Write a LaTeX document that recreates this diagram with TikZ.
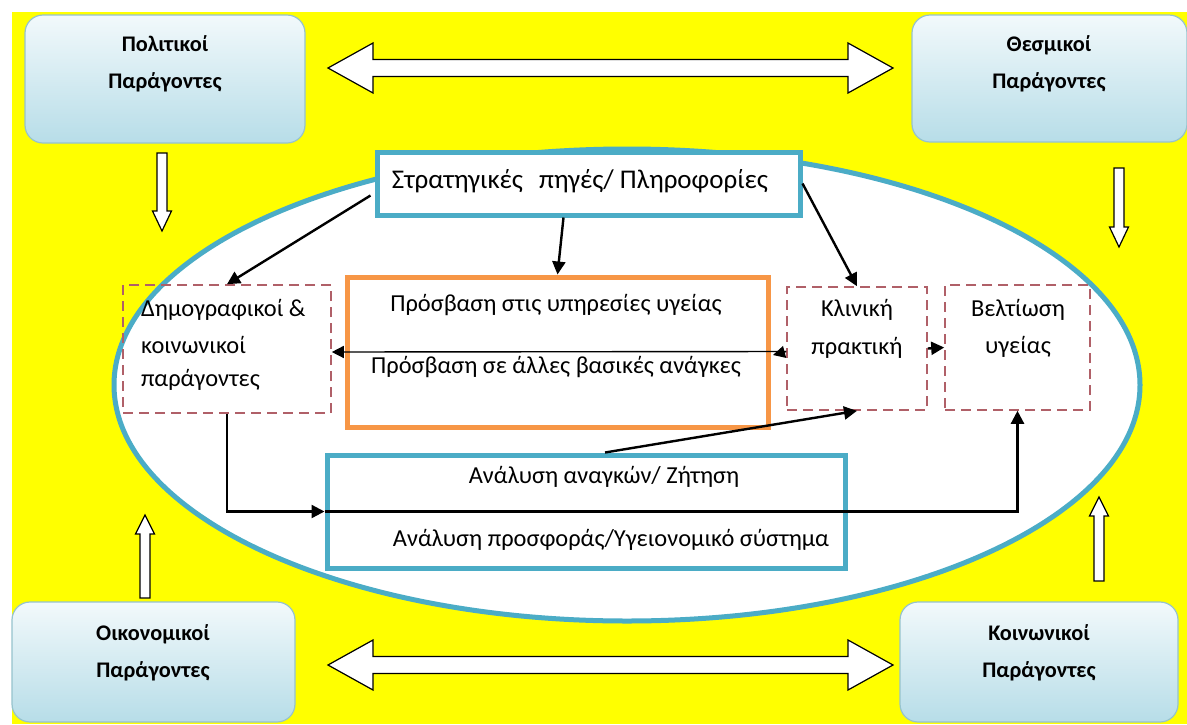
\documentclass[tikz,border=0pt]{standalone}
\usepackage{fontspec}
\setmainfont{Carlito}
\usetikzlibrary{arrows.meta,shapes.geometric,calc}
\definecolor{ylw}{RGB}{255,255,0}
\definecolor{cblue}{RGB}{75,172,198}
\definecolor{corange}{RGB}{247,150,70}
\definecolor{cdash}{RGB}{176,96,104}
\definecolor{ctop}{RGB}{242,249,251}
\definecolor{cbot}{RGB}{183,221,232}
\definecolor{cedge}{RGB}{150,195,205}
\begin{document}
\begin{tikzpicture}[x=1pt,y=-1pt,
  corner/.style={draw=cedge, line width=1.2pt, rounded corners=18pt, top color=ctop, bottom color=cbot, inner sep=0pt},
  ctext/.style={inner sep=0pt, align=center, font=\bfseries\fontsize{22.3}{37}\selectfont},
  txt/.style={inner sep=0pt, font=\fontsize{24.4}{28}\selectfont},
  blockarrow/.style={draw=black, fill=white, line width=1.2pt, line join=miter},
  bluebox/.style={draw=cblue, fill=white, line width=5pt, inner sep=0pt},
  orangebox/.style={draw=corange, fill=white, line width=5pt, inner sep=0pt},
  dashbox/.style={draw=cdash, line width=1.6pt, dash pattern=on 10pt off 6pt, inner sep=0pt},
  conn/.style={draw=black, line width=2.4pt, -{Triangle[length=13pt,width=13pt]}},
  thinconn/.style={draw=black, line width=1.4pt, -{Triangle[length=12pt,width=12pt]}}
]
\useasboundingbox (0,0) rectangle (1187,724);
\fill[white] (0,0) rectangle (1187,724);
\fill[ylw] (12,12) rectangle (1187,724);

% corner boxes
\node[corner, minimum width=280pt, minimum height=128pt] (tl) at (165,79) {};
\node[corner, minimum width=275pt, minimum height=127pt] (tr) at (1049.5,78.5) {};
\node[corner, minimum width=283pt, minimum height=120pt] (bl) at (153.5,662) {};
\node[corner, minimum width=278pt, minimum height=120pt] (br) at (1039,662) {};
\node[ctext] (tlt) at (165,64) {Πολιτικοί\\Παράγοντες};
\node[ctext] (trt) at (1049,64) {Θεσμικοί\\Παράγοντες};
\node[ctext] (blt) at (153,653) {Οικονομικοί\\Παράγοντες};
\node[ctext] (brt) at (1039,653) {Κοινωνικοί\\Παράγοντες};

% double block arrows
\draw[blockarrow] (328,68) -- (373,43) -- (373,59.5) -- (848,59.5) -- (848,43) -- (893,68) -- (848,93) -- (848,76.5) -- (373,76.5) -- (373,93) -- cycle;
\draw[blockarrow] (328,665) -- (373,640) -- (373,656.5) -- (848,656.5) -- (848,640) -- (893,665) -- (848,690) -- (848,673.5) -- (373,673.5) -- (373,690) -- cycle;

% small vertical block arrows
\draw[blockarrow] (157,153) -- (167,153) -- (167,211) -- (171.5,211) -- (162,231) -- (152.5,211) -- (157,211) -- cycle;
\draw[blockarrow] (1114,168) -- (1124,168) -- (1124,227) -- (1128.5,227) -- (1119,247) -- (1109.5,227) -- (1114,227) -- cycle;
\draw[blockarrow] (140,598) -- (150,598) -- (150,534) -- (154.5,534) -- (145,515) -- (135.5,534) -- (140,534) -- cycle;
\draw[blockarrow] (1094,581) -- (1104,581) -- (1104,516) -- (1108.5,516) -- (1099,497) -- (1089.5,516) -- (1094,516) -- cycle;

% ellipse
\node[ellipse, draw=cblue, fill=white, line width=5pt, minimum width=1026pt, minimum height=472pt, inner sep=0pt] (ell) at (627,385) {};

% inner boxes
\node[bluebox, minimum width=423pt, minimum height=63pt] (top) at (588.5,183.5) {};
\node[txt, font=\fontsize{27}{30}\selectfont] (topt) at (580,181) {Στρατηγικές\hspace{0.6em}πηγές/ Πληροφορίες};

\node[orangebox, minimum width=421pt, minimum height=150pt] (acc) at (557.5,352) {};
\node[txt] (acc1) at (556,305) {Πρόσβαση στις υπηρεσίες υγείας};
\node[txt] (acc2) at (556,367) {Πρόσβαση σε άλλες βασικές ανάγκες};

\node[dashbox, minimum width=208pt, minimum height=128pt] (demo) at (227,349) {};
\node[txt, anchor=west] (demo1) at (141,310) {Δημογραφικοί \&};
\node[txt, anchor=west] (demo2) at (141,345) {κοινωνικοί};
\node[txt, anchor=west] (demo3) at (141,380) {παράγοντες};

\node[dashbox, minimum width=140pt, minimum height=123pt] (klin) at (857,348.5) {};
\node[txt] (klin1) at (857,310) {Κλινική};
\node[txt] (klin2) at (857,348) {πρακτική};

\node[dashbox, minimum width=145pt, minimum height=125pt] (belt) at (1017.5,347.5) {};
\node[txt] (belt1) at (1018,310) {Βελτίωση};
\node[txt] (belt2) at (1018,347) {υγείας};

\node[bluebox, minimum width=518pt, minimum height=113pt] (ana) at (586,511.5) {};
\node[txt] (ana1) at (604,477) {Ανάλυση αναγκών/ Ζήτηση};
\node[txt] (ana2) at (611,540) {Ανάλυση προσφοράς/Υγειονομικό σύστημα};

% connectors
\draw[conn] ([yshift=-12pt,xshift=-4pt]top.west) -- (demo.north);
\draw[conn] ([xshift=-25pt]top.south) -- (acc.north);
\draw[conn] (top.east) -- (klin.north);
\draw[thinconn] ([yshift=-3pt]klin.west) -- ([yshift=-3pt]demo.east);
\draw[thinconn] ([yshift=-3pt]klin.west) -- ([yshift=-3pt,xshift=2.5pt]acc.east);
\draw[conn] (klin.east) -- (belt.west);
\draw[conn] (demo.south) |- (ana.west);
\draw[conn] (ana.west) -| (belt.south);
\draw[conn] ([xshift=19pt]ana.north) -- (klin.south);
\end{tikzpicture}
\end{document}
